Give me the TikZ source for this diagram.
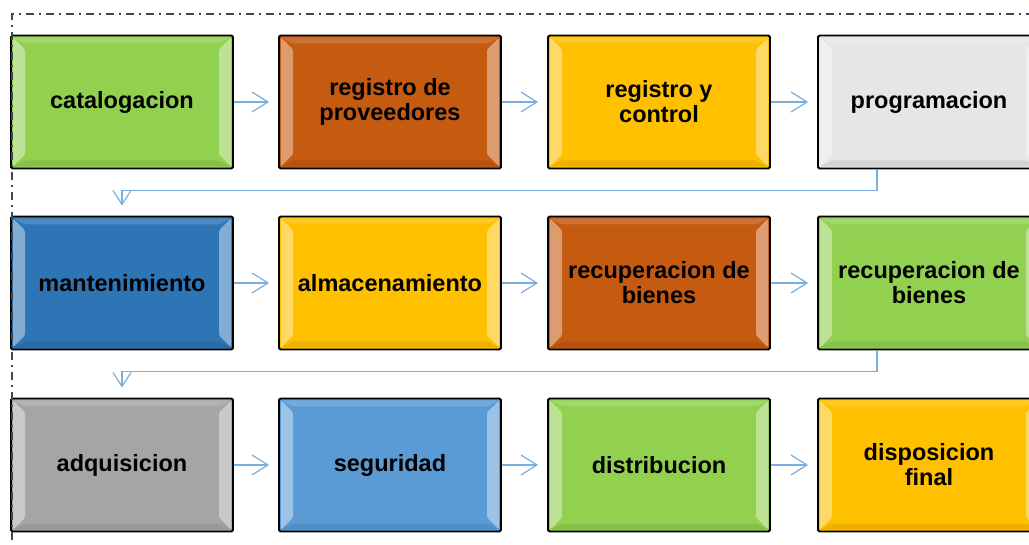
\documentclass[tikz,border=0pt]{standalone}
\usepackage{fontspec}
\setmainfont{Liberation Sans}
\usepackage{tikz}
\usetikzlibrary{arrows.meta,calc}
\definecolor{boxgreen}{HTML}{92D050}
\definecolor{boxorange}{HTML}{C55A11}
\definecolor{boxgold}{HTML}{FFC000}
\definecolor{boxlight}{HTML}{E6E6E6}
\definecolor{boxblue}{HTML}{2E75B6}
\definecolor{boxgray}{HTML}{A5A5A5}
\definecolor{boxsky}{HTML}{5B9BD5}
\definecolor{connblue}{HTML}{7AAEDC}
\definecolor{frame}{HTML}{3B4656}

\begin{document}
\begin{tikzpicture}[x=1pt,y=-1pt,
    stepbox/.style={draw=black, line width=1.8pt, rounded corners=1.5pt,
        minimum width=222pt, minimum height=133pt, align=center,
        font=\fontsize{23.5}{25}\selectfont\bfseries,
        path picture={
            % bevel highlights
            \fill[white,opacity=.4] ([xshift=2pt,yshift=-2pt]path picture bounding box.north west) -- ++(12pt,-12pt)
                -- ([xshift=14pt,yshift=14pt]path picture bounding box.south west) -- ([xshift=2pt,yshift=2pt]path picture bounding box.south west) -- cycle;
            \fill[white,opacity=.4] ([xshift=-2pt,yshift=-2pt]path picture bounding box.north east) -- ++(-12pt,-12pt)
                -- ([xshift=-14pt,yshift=14pt]path picture bounding box.south east) -- ([xshift=-2pt,yshift=2pt]path picture bounding box.south east) -- cycle;
            \fill[white,opacity=.15] ([xshift=2pt,yshift=-2pt]path picture bounding box.north west) -- ([xshift=-2pt,yshift=-2pt]path picture bounding box.north east)
                -- ++(-12pt,-6pt) -- ([xshift=14pt,yshift=-8pt]path picture bounding box.north west) -- cycle;
            \fill[black,opacity=.08] ([xshift=2pt,yshift=2pt]path picture bounding box.south west) -- ([xshift=-2pt,yshift=2pt]path picture bounding box.south east)
                -- ++(-12pt,6pt) -- ([xshift=14pt,yshift=8pt]path picture bounding box.south west) -- cycle;
        }},
    conn/.style={draw=connblue, line width=1.2pt, -{Straight Barb[length=16pt,width=20pt]}, shorten >=9pt}]
\useasboundingbox (0,0) rectangle (1029,545);

% first row
\node[stepbox, fill=boxgreen] (b1) at (122,102) {catalogacion};
\node[stepbox, fill=boxorange] (b2) at (390,102) {registro de\\proveedores};
\node[stepbox, fill=boxgold] (b3) at (659,102) {registro y\\control};
\node[stepbox, fill=boxlight] (b4) at (929,102) {programacion};

% second row
\node[stepbox, fill=boxblue] (b5) at (122,283) {mantenimiento};
\node[stepbox, fill=boxgold] (b6) at (390,283) {almacenamiento};
\node[stepbox, fill=boxorange] (b7) at (659,283) {recuperacion de\\bienes};
\node[stepbox, fill=boxgreen] (b8) at (929,283) {recuperacion de\\bienes};

% third row
\node[stepbox, fill=boxgray] (b9) at (122,465) {adquisicion};
\node[stepbox, fill=boxsky] (b10) at (390,465) {seguridad};
\node[stepbox, fill=boxgreen] (b11) at (659,465) {distribucion};
\node[stepbox, fill=boxgold] (b12) at (929,465) {disposicion\\final};

% arrows
\foreach \a/\b in {b1/b2,b2/b3,b3/b4,b5/b6,b6/b7,b7/b8,b9/b10,b10/b11,b11/b12}
    \draw[conn] (\a.east) -- (\b.west);
\draw[conn, -{Straight Barb[length=14pt,width=18pt]}, shorten >=10pt] ([xshift=-52pt]b4.south) -- ++(0,21) -| (b5.north);
\draw[conn, -{Straight Barb[length=14pt,width=18pt]}, shorten >=10pt] ([xshift=-52pt]b8.south) -- ++(0,21) -| (b9.north);

% dash-dot frame
\draw[frame, line width=1.5pt, dash pattern=on 8pt off 5pt on 2pt off 5pt] (12,560) -- (12,14) -- (1040,14);
\end{tikzpicture}
\end{document}
